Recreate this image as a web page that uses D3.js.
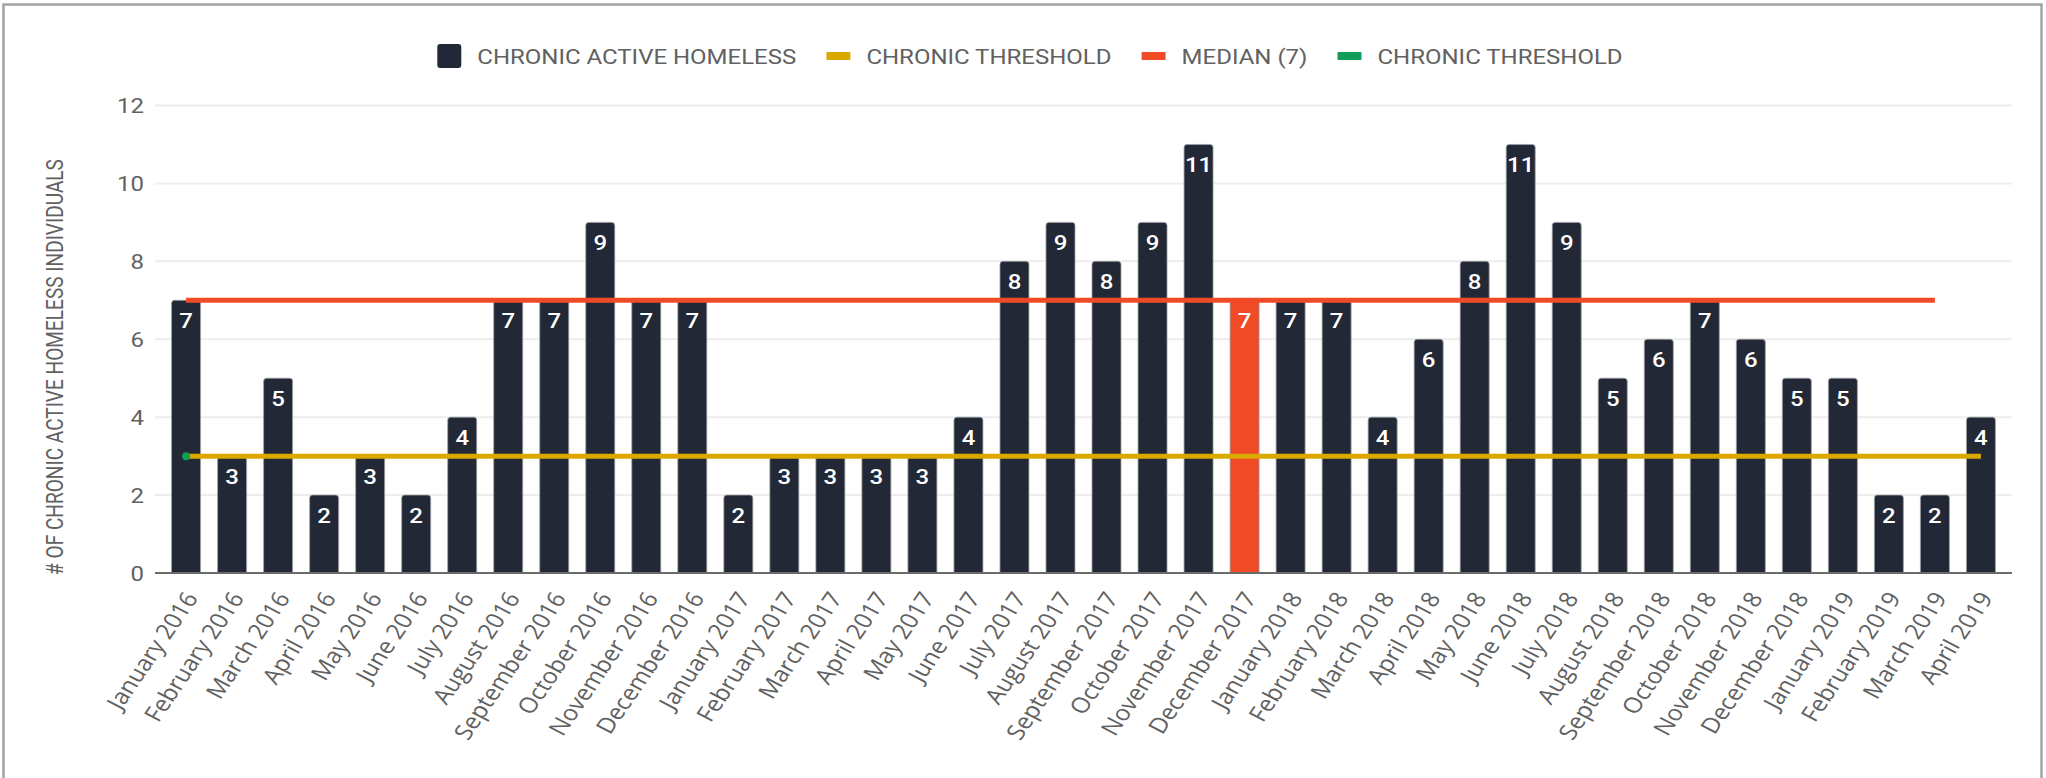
<!DOCTYPE html>
<html>
<head>
<meta charset="utf-8">
<script src="https://cdn.jsdelivr.net/npm/d3@7"></script>
<style>
  body { margin: 0; background: #fff; }
  svg { display: block; }
</style>
</head>
<body>
<div id="chart"></div>
<script>
// months on the x axis
const months = [
  "January 2016", "February 2016", "March 2016", "April 2016", "May 2016", "June 2016",
  "July 2016", "August 2016", "September 2016", "October 2016", "November 2016", "December 2016",
  "January 2017", "February 2017", "March 2017", "April 2017", "May 2017", "June 2017",
  "July 2017", "August 2017", "September 2017", "October 2017", "November 2017", "December 2017",
  "January 2018", "February 2018", "March 2018", "April 2018", "May 2018", "June 2018",
  "July 2018", "August 2018", "September 2018", "October 2018", "November 2018", "December 2018",
  "January 2019", "February 2019", "March 2019", "April 2019"
]

// chronic active homeless per month
const chronicActive = [
  7, 3, 5, 2, 3, 2, 4, 7, 7, 9, 7, 7,
  2, 3, 3, 3, 3, 4, 8, 9, 8, 9, 11, 7,
  7, 7, 4, 6, 8, 11, 9, 5, 6, 7, 6, 5,
  5, 2, 2, 4
]

// the month drawn as the median bar
const medianMonth = "December 2017"

// reference lines (null = no point)
const thresholdLine = [
  3, 3, 3, 3, 3, 3, 3, 3, 3, 3, 3, 3,
  3, 3, 3, 3, 3, 3, 3, 3, 3, 3, 3, 3,
  3, 3, 3, 3, 3, 3, 3, 3, 3, 3, 3, 3,
  3, 3, 3, 3
]
const medianLine = [
  7, 7, 7, 7, 7, 7, 7, 7, 7, 7, 7, 7,
  7, 7, 7, 7, 7, 7, 7, 7, 7, 7, 7, 7,
  7, 7, 7, 7, 7, 7, 7, 7, 7, 7, 7, 7,
  7, 7, 7, null
]
const thresholdPoint = [{ month: "January 2016", value: 3 }]

const yTicks = [0, 2, 4, 6, 8, 10, 12]

const legendItems = [
  { label: "CHRONIC ACTIVE HOMELESS", color: "#222835", type: "box" },
  { label: "CHRONIC THRESHOLD", color: "#dba800", type: "line" },
  { label: "MEDIAN (7)", color: "#f04b26", type: "line" },
  { label: "CHRONIC THRESHOLD", color: "#0f9d58", type: "line" }
]

const width = 2046
const height = 778
const squash = 0.87    // the original's text is a little flattened
const textColor = "#616161"

const svg = d3.select("#chart")
  .append("svg")
  .attr("width", width)
  .attr("height", height)

// frame
svg.append("rect")
  .attr("x", 3.5).attr("y", 4.5)
  .attr("width", 2038).attr("height", 820)
  .attr("fill", "none")
  .attr("stroke", "#a3a3a3")
  .attr("stroke-width", 2.5)

const plotLeft = 155, plotRight = 2012

const x = d3.scaleBand()
  .domain(months)
  .range([plotLeft, plotRight])
  .paddingInner(0.37)
  .paddingOuter(0.36)

const y = d3.scaleLinear()
  .domain([0, 12])
  .range([573, 105.5])

const cx = m => x(m) + x.bandwidth() / 2

// gridlines
svg.append("g")
  .selectAll("line")
  .data(yTicks)
  .enter()
  .append("line")
    .attr("x1", plotLeft)
    .attr("x2", plotRight)
    .attr("y1", d => y(d))
    .attr("y2", d => y(d))
    .attr("stroke", "#ededed")
    .attr("stroke-width", 2)

// y tick labels
svg.append("g")
  .selectAll("text")
  .data(yTicks)
  .enter()
  .append("text")
    .attr("transform", d => "translate(144," + y(d) + ") scale(1," + squash + ")")
    .attr("dy", "0.36em")
    .attr("text-anchor", "end")
    .style("font-family", "Roboto")
    .style("font-size", "24px")
    .style("fill", textColor)
    .text(d => d)

// y title
svg.append("text")
  .attr("transform", "translate(55,367) scale(1,0.83) rotate(-90)")
  .attr("dy", "0.36em")
  .attr("text-anchor", "middle")
  .style("font-family", "Roboto")
  .style("font-size", "23px")
  .style("fill", textColor)
  .text("# OF CHRONIC ACTIVE HOMELESS INDIVIDUALS")

// bars, top corners rounded
function barPath(x0, y0, w, h, r) {
  return "M" + x0 + "," + (y0 + h) +
    "V" + (y0 + r) +
    "Q" + x0 + "," + y0 + " " + (x0 + r) + "," + y0 +
    "H" + (x0 + w - r) +
    "Q" + (x0 + w) + "," + y0 + " " + (x0 + w) + "," + (y0 + r) +
    "V" + (y0 + h) + "Z"
}

const bars = months.map((m, i) => ({ month: m, value: chronicActive[i] }))

svg.append("g")
  .selectAll("path")
  .data(bars)
  .enter()
  .append("path")
    .attr("d", d => barPath(x(d.month), y(d.value), x.bandwidth(), y(0) - y(d.value), 3))
    .attr("fill", d => d.month === medianMonth ? "#f04b26" : "#222835")
    .attr("stroke", "#9da0a6")
    .attr("stroke-width", 0.8)

// axis line
svg.append("line")
  .attr("x1", plotLeft).attr("x2", plotRight)
  .attr("y1", y(0)).attr("y2", y(0))
  .attr("stroke", "#6b6b6b")
  .attr("stroke-width", 2)

// x labels
svg.append("g")
  .selectAll("text")
  .data(months)
  .enter()
  .append("text")
    .attr("transform", d => "translate(" + (cx(d) + 5) + ",594) scale(1," + squash + ") rotate(-59)")
    .attr("dy", "0.36em")
    .attr("text-anchor", "end")
    .style("font-family", "Open Sans")
    .style("font-size", "25px")
    .style("fill", textColor)
    .text(d => d)

// reference lines
const line = d3.line()
  .defined(d => d != null)
  .x((d, i) => cx(months[i]))
  .y(d => y(d))

svg.append("path")
  .datum(thresholdLine)
  .attr("d", line)
  .attr("fill", "none")
  .attr("stroke", "#dba800")
  .attr("stroke-width", 5)

svg.append("path")
  .datum(medianLine)
  .attr("d", line)
  .attr("fill", "none")
  .attr("stroke", "#f04b26")
  .attr("stroke-width", 5)

svg.append("g")
  .selectAll("circle")
  .data(thresholdPoint)
  .enter()
  .append("circle")
    .attr("cx", d => cx(d.month))
    .attr("cy", d => y(d.value))
    .attr("r", 4)
    .attr("fill", "#0f9d58")

// value labels inside bars
svg.append("g")
  .selectAll("text")
  .data(bars)
  .enter()
  .append("text")
    .attr("transform", d => "translate(" + cx(d.month) + "," + (y(d.value) + 28) + ") scale(1," + squash + ")")
    .attr("text-anchor", "middle")
    .style("font-family", "Roboto")
    .style("font-size", "24px")
    .style("font-weight", 500)
    .style("fill", "#ffffff")
    .text(d => d.value)

// legend, centred over the page
const legend = svg.append("g")
const items = legend.selectAll("g")
  .data(legendItems)
  .enter()
  .append("g")

items.append("text")
  .attr("dy", "0.36em")
  .style("font-family", "Roboto")
  .style("font-size", "24px")
  .style("fill", textColor)
  .text(d => d.label)

let pos = 0
const legendY = 56
items.each(function(d) {
  const g = d3.select(this)
  const tw = g.select("text").node().getComputedTextLength()
  if (d.type === "box") {
    g.append("rect")
      .attr("x", pos).attr("y", legendY - 12)
      .attr("width", 24).attr("height", 24)
      .attr("rx", 3)
      .attr("fill", d.color)
  } else {
    g.append("rect")
      .attr("x", pos).attr("y", legendY - 4)
      .attr("width", 24).attr("height", 8)
      .attr("rx", 1)
      .attr("fill", d.color)
  }
  g.select("text")
    .attr("transform", "translate(" + (pos + 40) + "," + legendY + ") scale(1," + squash + ")")
  pos += 40 + tw + 30
})
const legendWidth = pos - 30
legend.attr("transform", "translate(" + (1030 - legendWidth / 2) + ",0)")
</script>
</body>
</html>
